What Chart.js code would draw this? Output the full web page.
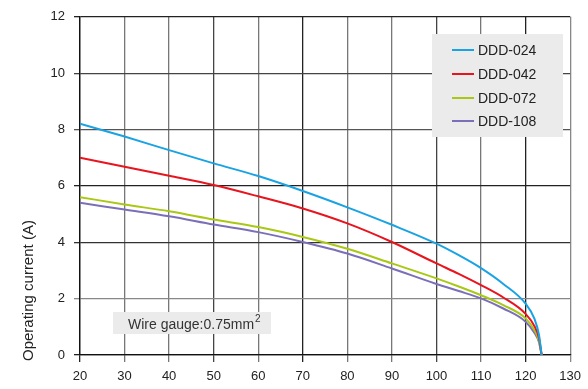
<!DOCTYPE html>
<html>
<head>
<meta charset="utf-8">
<script src="https://cdn.jsdelivr.net/npm/chart.js@4/dist/chart.umd.min.js"></script>
<style>
  body { margin: 0; background: #fff; }
  #c { display: block; }
</style>
</head>
<body>
<canvas id="c" width="588" height="389"></canvas>
<script>
// temperature points (x) shared by all curves
var temps = [20, 30, 40, 50, 60, 70, 80, 90, 100, 105, 110, 115, 120, 122, 123, 123.6];

// operating current (A) per model
var ddd024 = [8.21, 7.75, 7.27, 6.80, 6.35, 5.82, 5.24, 4.62, 3.95, 3.54, 3.08, 2.52, 1.82, 1.28, 0.72, 0];
var ddd042 = [7.00, 6.68, 6.36, 6.03, 5.63, 5.20, 4.67, 4.01, 3.25, 2.88, 2.48, 2.04, 1.46, 1.02, 0.60, 0];
var ddd072 = [5.60, 5.34, 5.10, 4.81, 4.54, 4.19, 3.77, 3.25, 2.72, 2.43, 2.12, 1.77, 1.30, 0.88, 0.50, 0];
var ddd108 = [5.40, 5.16, 4.92, 4.63, 4.36, 4.01, 3.60, 3.07, 2.52, 2.27, 2.01, 1.65, 1.18, 0.78, 0.45, 0];

var seriesNames = ['DDD-024', 'DDD-042', 'DDD-072', 'DDD-108'];
var seriesColors = ['#1aa3e3', '#e8141e', '#a9c815', '#7c6fb9'];

var xTicks = [20, 30, 40, 50, 60, 70, 80, 90, 100, 110, 120, 130];
var yTicks = [0, 2, 4, 6, 8, 10, 12];

// the scanned grid has uneven line darkness
var xGridColors = ['#222', '#777', '#777', '#444', '#777', '#222', '#777', '#777', '#444', '#777', '#222', '#888'];
var yGridColors = ['#222', '#888', '#333', '#222', '#555', '#444', '#222'];

function pts(vals) {
  return vals.map(function (v, i) { return { x: temps[i], y: v }; });
}

var allSeries = [ddd024, ddd042, ddd072, ddd108];

var labelFont = { family: '"Liberation Sans", Arial, sans-serif', size: 13 };

var extras = {
  id: 'extras',
  afterDraw: function (chart) {
    var ctx = chart.ctx;
    ctx.save();
    ctx.font = '14px "Liberation Sans", Arial, sans-serif';
    ctx.textBaseline = 'middle';

    // legend box
    ctx.fillStyle = '#ebebeb';
    ctx.fillRect(432, 34, 131, 103);
    var rows = [50, 74, 98, 121];
    chart.data.datasets.forEach(function (ds, i) {
      ctx.strokeStyle = ds.borderColor;
      ctx.lineWidth = 2;
      ctx.beginPath();
      ctx.moveTo(452, rows[i]);
      ctx.lineTo(474, rows[i]);
      ctx.stroke();
      ctx.fillStyle = '#222';
      ctx.textAlign = 'left';
      ctx.fillText(ds.label, 478, rows[i] + 1);
    });

    // wire gauge note
    ctx.fillStyle = '#ebebeb';
    ctx.fillRect(113, 312, 158, 22);
    ctx.fillStyle = '#333';
    ctx.textBaseline = 'alphabetic';
    ctx.fillText('Wire gauge:0.75mm', 128, 329);
    var w = ctx.measureText('Wire gauge:0.75mm').width;
    ctx.font = '10px "Liberation Sans", Arial, sans-serif';
    ctx.fillText('2', 128 + w + 1, 322);

    // y axis title
    ctx.font = '15px "Liberation Sans", Arial, sans-serif';
    ctx.fillStyle = '#222';
    ctx.translate(33, 361);
    ctx.rotate(-Math.PI / 2);
    ctx.textAlign = 'left';
    ctx.fillText('Operating current (A)', 0, 0);
    ctx.restore();
  }
};

new Chart(document.getElementById('c'), {
  type: 'line',
  data: {
    datasets: seriesNames.map(function (name, i) {
      return {
        label: name,
        data: pts(allSeries[i]),
        borderColor: seriesColors[i],
        backgroundColor: seriesColors[i],
        borderWidth: 2,
        pointRadius: 0,
        cubicInterpolationMode: 'monotone',
        fill: false
      };
    })
  },
  options: {
    responsive: false,
    animation: false,
    layout: { padding: { left: 0, right: 12, top: 15, bottom: 0 } },
    plugins: {
      legend: { display: false },
      tooltip: { enabled: false }
    },
    scales: {
      x: {
        type: 'linear',
        min: xTicks[0],
        max: xTicks[xTicks.length - 1],
        afterFit: function (scale) { scale.height = 34; },
        afterBuildTicks: function (scale) {
          scale.ticks = xTicks.map(function (v) { return { value: v }; });
        },
        ticks: { color: '#222', font: labelFont, padding: 7, maxRotation: 0 },
        grid: {
          color: function (c) { return xGridColors[c.index] || '#777'; },
          tickColor: function (c) { return xGridColors[c.index] || '#777'; },
          lineWidth: 1.3,
          tickLength: 7
        },
        border: { color: '#111', width: 1.3 }
      },
      y: {
        min: yTicks[0],
        max: yTicks[yTicks.length - 1],
        afterFit: function (scale) { scale.width = 80; },
        afterBuildTicks: function (scale) {
          scale.ticks = yTicks.map(function (v) { return { value: v }; });
        },
        ticks: { color: '#222', font: labelFont, padding: 9 },
        grid: {
          color: function (c) { return yGridColors[c.index] || '#555'; },
          tickColor: function (c) { return yGridColors[c.index] || '#555'; },
          lineWidth: 1.3,
          tickLength: 6
        },
        border: { color: '#111', width: 1.3 }
      }
    }
  },
  plugins: [extras]
});
</script>
</body>
</html>
